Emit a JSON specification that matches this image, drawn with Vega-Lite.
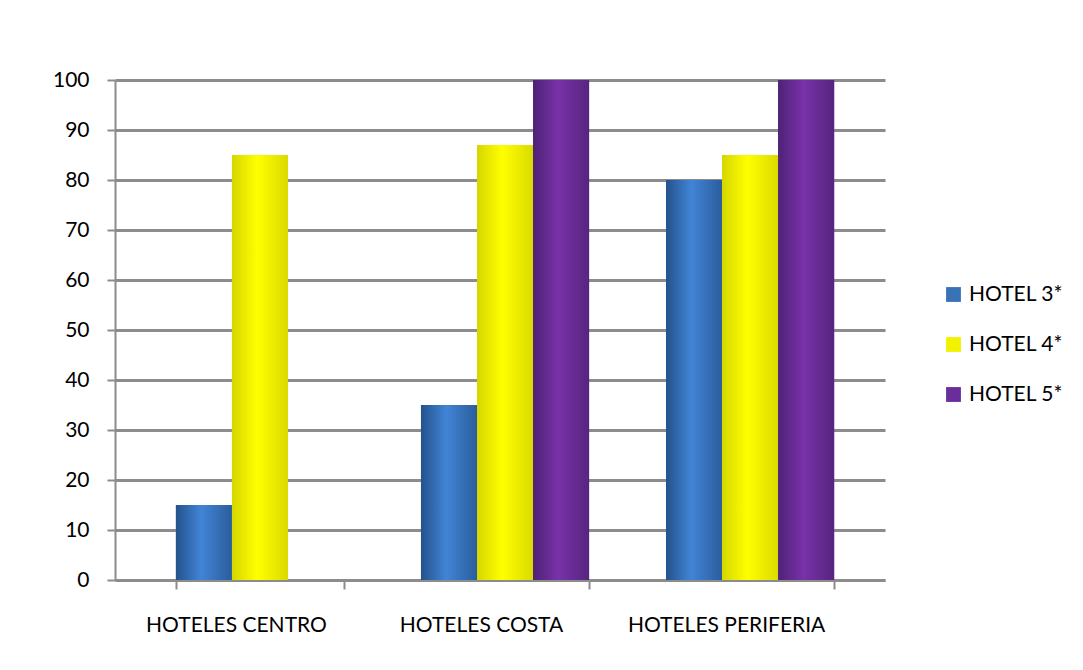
{
  "$schema": "https://vega.github.io/schema/vega-lite/v6.json",
  "width": 770,
  "height": 500,
  "autosize": {"type": "none"},
  "padding": {"left": 115, "top": 80, "right": 198, "bottom": 90},
  "background": "white",
  "config": {
    "view": {"stroke": null},
    "font": "Lato"
  },
  "data": {
    "values": [
      {"categoria": "HOTELES CENTRO", "hotel": "HOTEL 3*", "valor": 15},
      {"categoria": "HOTELES CENTRO", "hotel": "HOTEL 4*", "valor": 85},
      {"categoria": "HOTELES COSTA", "hotel": "HOTEL 3*", "valor": 35},
      {"categoria": "HOTELES COSTA", "hotel": "HOTEL 4*", "valor": 87},
      {"categoria": "HOTELES COSTA", "hotel": "HOTEL 5*", "valor": 100},
      {"categoria": "HOTELES PERIFERIA", "hotel": "HOTEL 3*", "valor": 80},
      {"categoria": "HOTELES PERIFERIA", "hotel": "HOTEL 4*", "valor": 85},
      {"categoria": "HOTELES PERIFERIA", "hotel": "HOTEL 5*", "valor": 100}
    ]
  },
  "encoding": {
    "x": {
      "field": "categoria",
      "type": "nominal",
      "sort": ["HOTELES CENTRO", "HOTELES COSTA", "HOTELES PERIFERIA"],
      "scale": {"paddingInner": 0.314, "paddingOuter": 0.228, "align": 0.545},
      "axis": {
        "title": null,
        "labelAngle": 0,
        "labelFontSize": 21,
        "labelLimit": 0,
        "labelOverlap": false,
        "labelColor": "#000000",
        "labelPadding": 25,
        "labelOffset": -24,
        "tickBand": "extent",
        "tickOffset": -24,
        "tickColor": "#8c8c8c",
        "tickWidth": 2,
        "tickSize": 9,
        "domainColor": "#8c8c8c",
        "domainWidth": 2,
        "grid": false
      }
    },
    "xOffset": {
      "field": "hotel",
      "type": "nominal",
      "sort": ["HOTEL 3*", "HOTEL 4*", "HOTEL 5*"],
      "scale": {"paddingInner": 0, "paddingOuter": 0}
    },
    "y": {
      "field": "valor",
      "type": "quantitative",
      "scale": {"domain": [0, 100], "nice": false},
      "axis": {
        "title": null,
        "values": [0, 10, 20, 30, 40, 50, 60, 70, 80, 90, 100],
        "labelFontSize": 21,
        "labelColor": "#000000",
        "labelPadding": 18,
        "tickColor": "#8c8c8c",
        "tickWidth": 2,
        "tickSize": 8,
        "domainColor": "#8c8c8c",
        "domainWidth": 2,
        "gridColor": "#8c8c8c",
        "gridWidth": 3
      }
    }
  },
  "layer": [
    {
      "mark": {"type": "bar"},
      "encoding": {
        "color": {
          "field": "hotel",
          "type": "nominal",
          "sort": ["HOTEL 3*", "HOTEL 4*", "HOTEL 5*"],
          "scale": {
            "domain": ["HOTEL 3*", "HOTEL 4*", "HOTEL 5*"],
            "range": ["#3a72b8", "#f2f200", "#6a2e9a"]
          },
          "legend": {
            "title": null,
            "orient": "none",
            "legendX": 828,
            "legendY": 204,
            "symbolType": "square",
            "symbolSize": 220,
            "symbolStrokeWidth": 0,
            "labelFontSize": 21,
            "labelLimit": 0,
            "labelColor": "#000000",
            "labelOffset": 5,
            "rowPadding": 28
          }
        }
      }
    },
    {
      "transform": [{"filter": "datum.hotel === 'HOTEL 3*'"}],
      "mark": {
        "type": "bar",
        "color": {
          "gradient": "linear", "x1": 0, "x2": 1, "y1": 0, "y2": 0,
          "stops": [
            {"offset": 0, "color": "#24528c"},
            {"offset": 0.45, "color": "#4184d6"},
            {"offset": 1, "color": "#2b5d9c"}
          ]
        }
      }
    },
    {
      "transform": [{"filter": "datum.hotel === 'HOTEL 4*'"}],
      "mark": {
        "type": "bar",
        "color": {
          "gradient": "linear", "x1": 0, "x2": 1, "y1": 0, "y2": 0,
          "stops": [
            {"offset": 0, "color": "#d6d600"},
            {"offset": 0.45, "color": "#ffff00"},
            {"offset": 1, "color": "#dada00"}
          ]
        }
      }
    },
    {
      "transform": [{"filter": "datum.hotel === 'HOTEL 5*'"}],
      "mark": {
        "type": "bar",
        "color": {
          "gradient": "linear", "x1": 0, "x2": 1, "y1": 0, "y2": 0,
          "stops": [
            {"offset": 0, "color": "#4e2276"},
            {"offset": 0.45, "color": "#7832a8"},
            {"offset": 1, "color": "#562580"}
          ]
        }
      }
    }
  ]
}
